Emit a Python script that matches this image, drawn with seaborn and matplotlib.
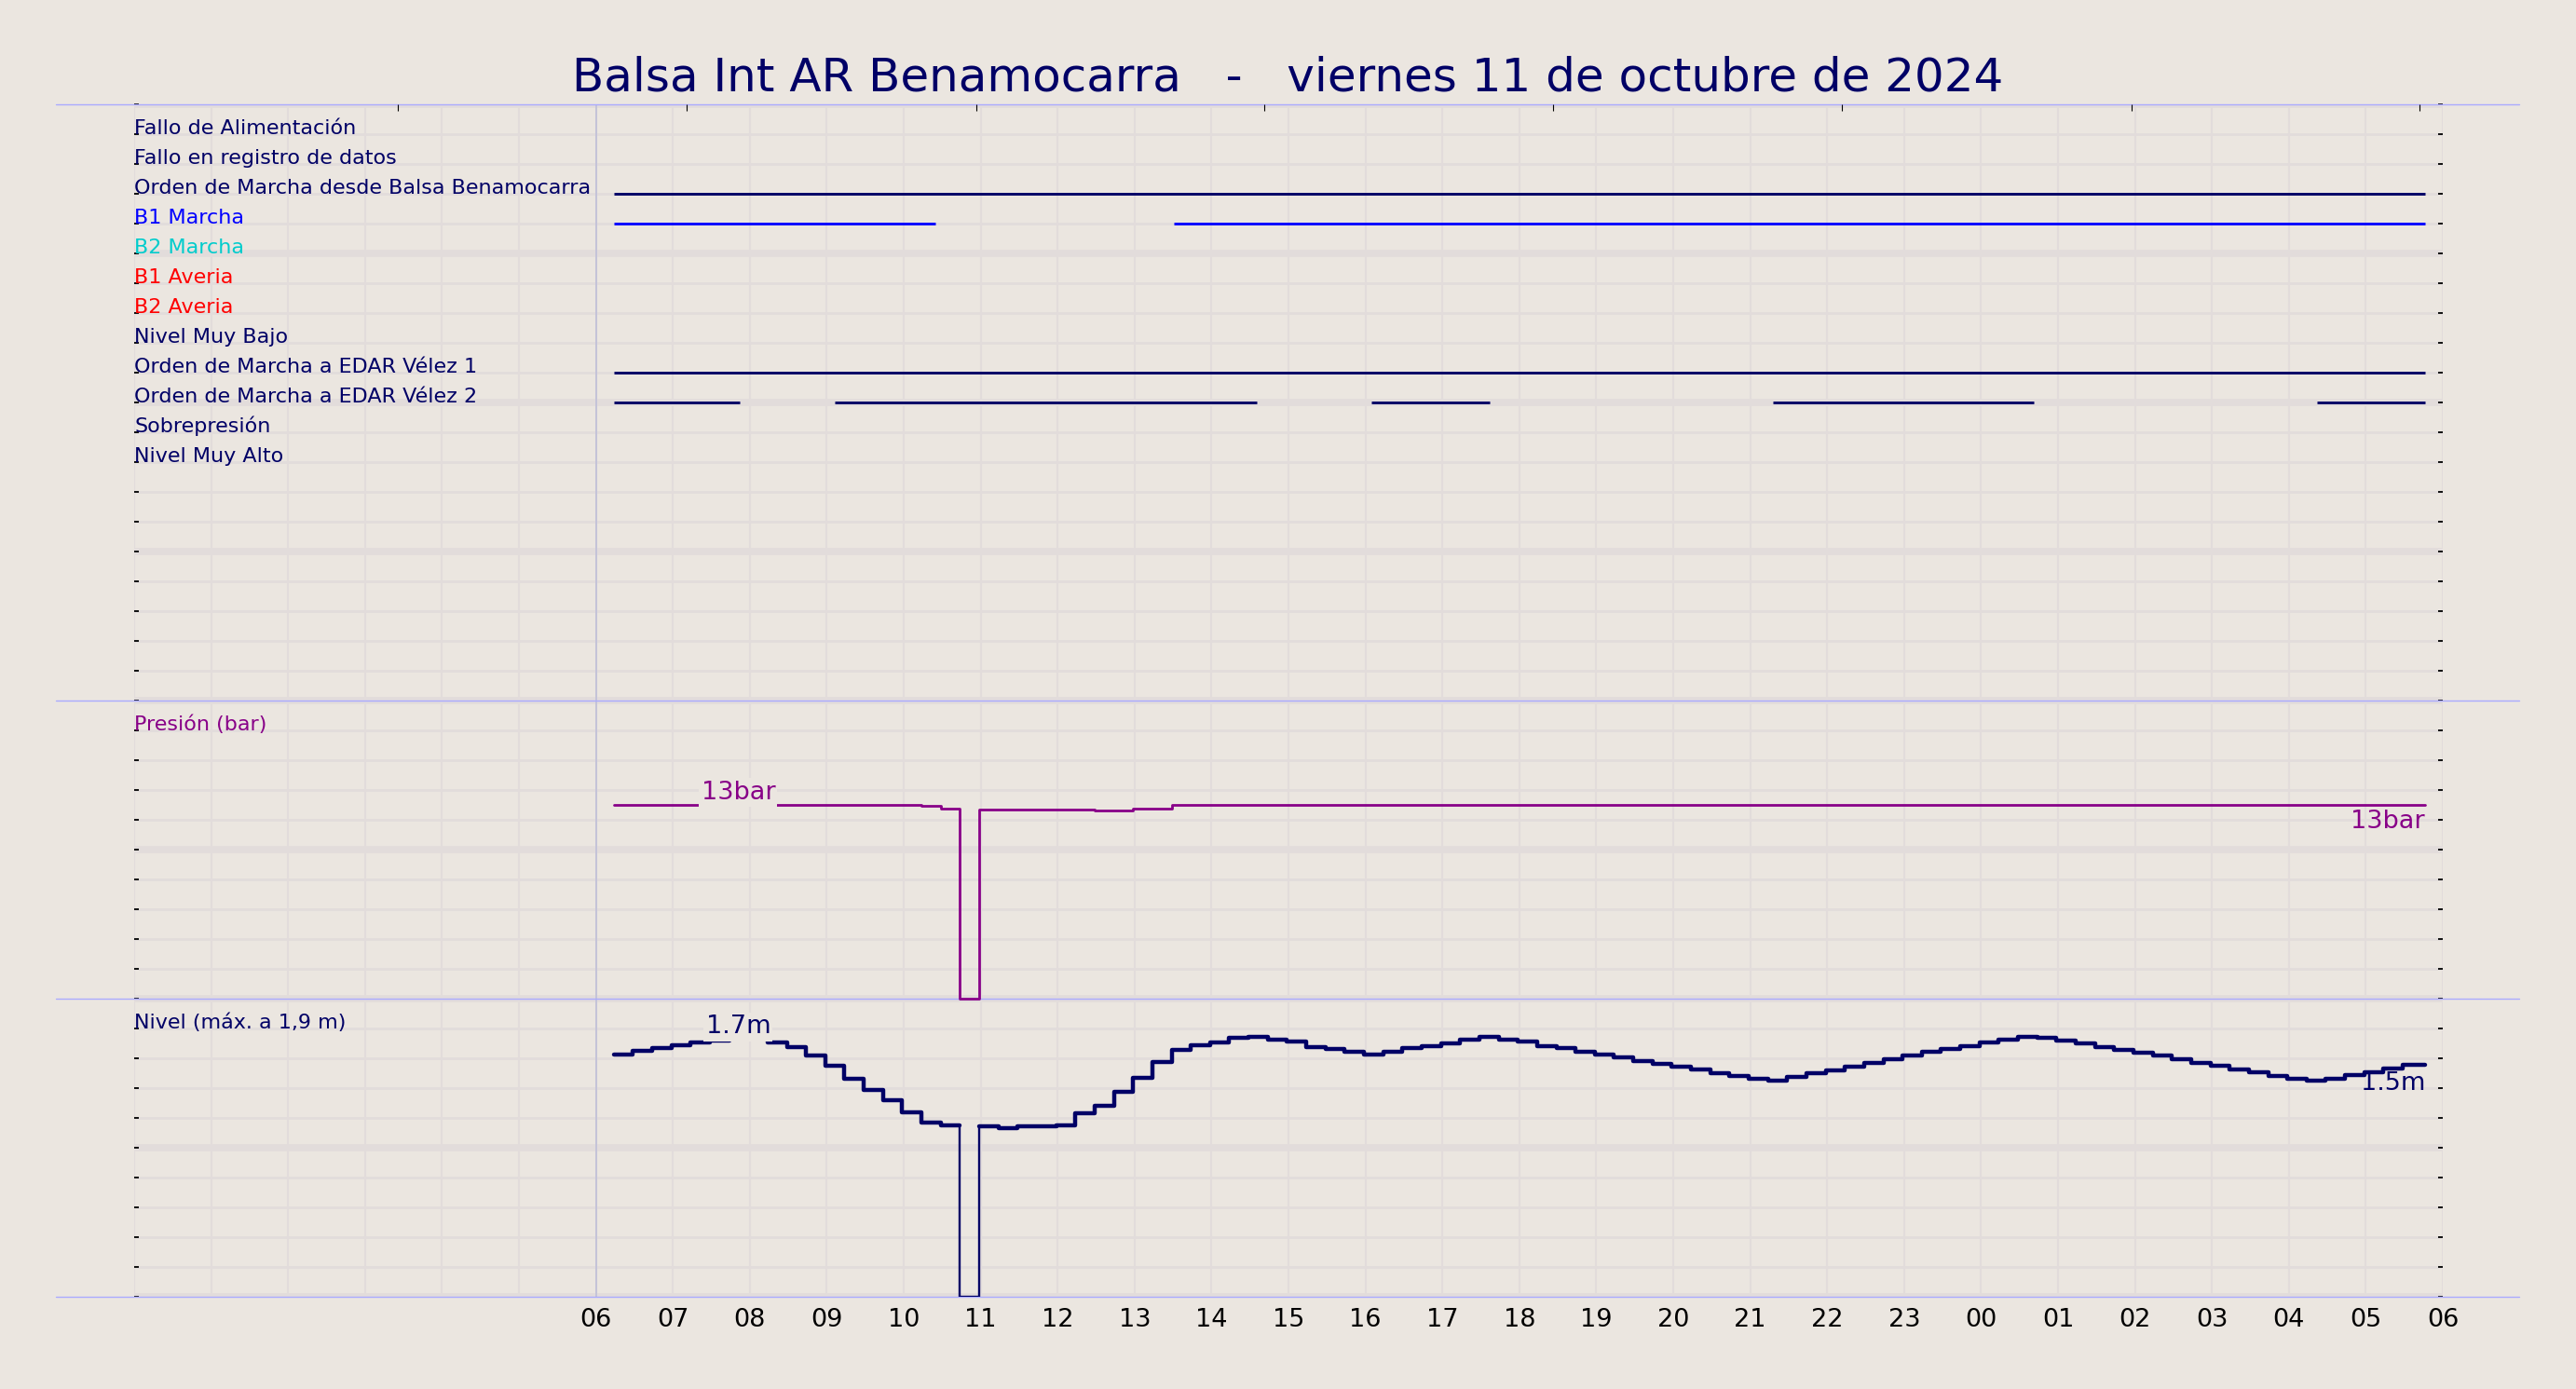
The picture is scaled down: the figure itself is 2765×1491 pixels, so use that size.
import numpy as np
import pandas as pd
import matplotlib.pyplot as plt
import seaborn as sns

# ---------------------------------------------------------
#  Data (hours counted from 00:00 of the day,
#  the day runs 06:00 -> 06:00 of the next day)
# ---------------------------------------------------------
title_text = "Balsa Int AR Benamocarra   -   viernes 11 de octubre de 2024"

state_names = ["Fallo de Alimentación", "Fallo en registro de datos",
               "Orden de Marcha desde Balsa Benamocarra", "B1 Marcha",
               "B2 Marcha", "B1 Averia", "B2 Averia", "Nivel Muy Bajo",
               "Orden de Marcha a EDAR Vélez 1", "Orden de Marcha a EDAR Vélez 2",
               "Sobrepresión", "Nivel Muy Alto"]
state_colors = ["#000066", "#000066", "#000066", "#0000ff", "#00cccc", "#ff0000",
                "#ff0000", "#000066", "#000066", "#000066", "#000066", "#000066"]

# on-intervals (start, end) in hours
orden_balsa_on = [(6.23, 29.77)]
b1_marcha_on = [(6.23, 10.41), (13.51, 29.77)]
edar1_on = [(6.23, 29.77)]
edar2_on = [(6.23, 7.87), (9.10, 14.59), (16.08, 17.62), (21.29, 24.68), (28.36, 29.77)]

# 15-minute samples, first one at 06:14, data ends at 05:46
first_sample = 6.23
sample_step = 0.25
data_end = 29.77

level_m = [1.622, 1.653, 1.669, 1.688, 1.709, 1.720, 1.729, 1.729, 1.706, 1.672,
           1.616, 1.550, 1.460, 1.385, 1.316, 1.236, 1.170, 1.147, 0.000, 1.143,
           1.134, 1.143, 1.143, 1.147, 1.232, 1.284, 1.374, 1.470, 1.572, 1.655,
           1.688, 1.705, 1.735, 1.745, 1.722, 1.712, 1.678, 1.662, 1.641, 1.622,
           1.641, 1.666, 1.682, 1.698, 1.727, 1.741, 1.727, 1.715, 1.681, 1.666,
           1.643, 1.625, 1.606, 1.581, 1.562, 1.543, 1.525, 1.500, 1.481, 1.462,
           1.448, 1.473, 1.500, 1.518, 1.545, 1.568, 1.593, 1.616, 1.643, 1.664,
           1.681, 1.706, 1.722, 1.746, 1.737, 1.718, 1.697, 1.672, 1.656, 1.635,
           1.616, 1.593, 1.566, 1.547, 1.522, 1.504, 1.481, 1.460, 1.448, 1.460,
           1.485, 1.504, 1.529, 1.554]

pressure_bar = [13.03, 13.03, 13.03, 13.03, 13.03, 13.03, 13.03, 13.03, 13.03, 13.03,
                13.03, 13.03, 13.03, 13.03, 13.03, 13.03, 12.95, 12.74, 0.00, 12.70,
                12.70, 12.70, 12.70, 12.70, 12.70, 12.63, 12.63, 12.72, 12.72, 13.03,
                13.03, 13.03, 13.03, 13.03, 13.03, 13.03, 13.03, 13.03, 12.97, 13.03,
                12.97, 12.97, 13.03, 13.03, 12.97, 12.97, 12.97, 12.97, 12.97, 12.97,
                12.97, 13.03, 13.03, 13.03, 12.97, 13.03, 13.03, 13.03, 13.03, 13.03,
                13.03, 13.03, 13.03, 13.03, 13.03, 13.03, 13.03, 13.03, 13.03, 13.03,
                13.03, 13.03, 13.03, 13.03, 13.03, 13.03, 13.03, 13.03, 13.03, 13.03,
                13.03, 13.03, 13.03, 13.03, 13.03, 13.03, 13.03, 13.03, 13.03, 13.03,
                13.03, 13.03, 13.03, 13.03]

gap_index = 18          # data failure sample (10:44 - 10:59)
pressure_labels = ["13bar", "13bar"]
level_labels = ["1.7m", "1.5m"]
label_hour = 7.85

hour_labels = ["06", "07", "08", "09", "10", "11", "12", "13", "14", "15", "16",
               "17", "18", "19", "20", "21", "22", "23", "00", "01", "02", "03",
               "04", "05", "06"]
top_ticks = [3.43, 7.18, 10.94, 14.69, 18.44, 22.19, 25.95, 29.70]

# ---------------------------------------------------------
#  Styling
# ---------------------------------------------------------
bg = "#ebe6e0"
grid_c = "#e2dcdb"
navy = "#000066"
purple = "#880088"
sep_c = "#aaaaff"

sns.set_theme(style="whitegrid", rc={"axes.facecolor": bg, "figure.facecolor": bg,
                                     "grid.color": grid_c})
plt.rcParams["font.family"] = ["DejaVu Sans"]

# y layout: 0-10 level panel, 10-20 pressure panel, 20-40 states panel
level_scale = 5.0        # 10 units = 2 m
pressure_scale = 0.5     # 10 units = 20 bar
pressure_base = 10.0

n = len(level_m)
t = first_sample + sample_step * np.arange(n)
t_ext = np.append(t, data_end)
df = pd.DataFrame({
    "hour": t_ext,
    "level": np.append(level_m, level_m[-1]) * level_scale,
    "pressure": pressure_base + np.append(pressure_bar, pressure_bar[-1]) * pressure_scale,
})
df_a = df.iloc[:gap_index + 1].copy()
df_a.iloc[-1, 1:] = df.iloc[gap_index - 1, 1:]
df_b = df.iloc[gap_index + 1:]

fig = plt.figure(figsize=(27.65, 14.91), dpi=100)
ax = fig.add_axes([0.0521, 0.0664, 0.8962, 0.8585])
ax.set_xlim(0, 30)
ax.set_ylim(0, 40)

# grid
ax.set_xticks(np.arange(0, 31))
ax.set_xticklabels([""] * 6 + hour_labels, fontsize=19.5, color="black")
ax.set_yticks(np.arange(0, 41, 5))
ax.set_yticks(np.arange(0, 41, 1), minor=True)
ax.set_yticklabels([])
ax.grid(True, which="major", axis="x", color=grid_c, lw=1.5)
ax.grid(True, which="major", axis="y", color=grid_c, lw=5.5)
ax.grid(True, which="minor", axis="y", color=grid_c, lw=2.0)
ax.set_axisbelow(True)
ax.tick_params(axis="x", length=0, pad=9)
ax.tick_params(axis="y", which="both", direction="in", length=3.5, width=1.3,
               color="black", left=True, right=True)
for s in ax.spines.values():
    s.set_visible(False)

# separators and start-of-day line
for yy in [0, 10, 20, 40]:
    ax.axhline(yy, xmin=-0.034, xmax=1.033, color=sep_c, lw=1.0,
               clip_on=False, zorder=2)
ax.axvline(6, color="#bcbcd8", lw=1.1, zorder=1.5)

# state rows
for i, (name, col) in enumerate(zip(state_names, state_colors)):
    ax.text(0, 39 - i, name, color=col, fontsize=16, ha="left",
            va="baseline", zorder=4)

for segs, row, col in [(orden_balsa_on, 37, navy), (b1_marcha_on, 36, "#0000ff"),
                       (edar1_on, 31, navy), (edar2_on, 30, navy)]:
    for a, b in segs:
        ax.hlines(row, a, b, color=col, lw=2.1, zorder=3)

ax.text(0, 19, "Presión (bar)", color=purple, fontsize=16, va="baseline", zorder=4)
ax.text(0, 9, "Nivel (máx. a 1,9 m)", color=navy, fontsize=16, va="baseline", zorder=4)

# pressure
sns.lineplot(data=df, x="hour", y="pressure", ax=ax, color=purple, lw=2.0,
             drawstyle="steps-post", estimator=None, sort=False, zorder=3)
# level: thin through the failure gap, thick elsewhere
sns.lineplot(data=df, x="hour", y="level", ax=ax, color=navy, lw=1.7,
             drawstyle="steps-post", estimator=None, sort=False, zorder=3)
for part in [df_a, df_b]:
    sns.lineplot(data=part, x="hour", y="level", ax=ax, color=navy, lw=3.2,
                 drawstyle="steps-post", estimator=None, sort=False, zorder=3)

ax.set_xlabel("")
ax.set_ylabel("")

# value labels
k_lab = int((label_hour - first_sample) // sample_step)
box = dict(boxstyle="square,pad=0.08", fc=bg, ec="none")
ax.text(label_hour, df["pressure"][k_lab], pressure_labels[0], color=purple,
        fontsize=19.5, ha="center", va="bottom", bbox=box, zorder=4)
ax.text(label_hour, df["level"][k_lab], level_labels[0], color=navy,
        fontsize=19.5, ha="center", va="bottom", bbox=box, zorder=4)
ax.annotate(pressure_labels[1], (data_end, df["pressure"].iloc[-1]),
            xytext=(0, -4), textcoords="offset points", color=purple,
            fontsize=19.5, ha="right", va="top", zorder=4)
ax.annotate(level_labels[1], (data_end, df["level"].iloc[-1]),
            xytext=(0, -5), textcoords="offset points", color=navy,
            fontsize=19.5, ha="right", va="top", zorder=4)

# small ticks along the top edge
ax_top = ax.twiny()
ax_top.set_xlim(0, 30)
ax_top.set_xticks(top_ticks)
ax_top.grid(False)
ax_top.tick_params(axis="x", direction="in", length=5, width=0.8, color="black",
                   top=True, bottom=False, labeltop=False, labelbottom=False)
for s in ax_top.spines.values():
    s.set_visible(False)

fig.text(0.5, 1 - 98 / 1491, title_text, ha="center", va="baseline",
         fontsize=36, color=navy)

fig.savefig("out.png", dpi=100, facecolor=bg)
